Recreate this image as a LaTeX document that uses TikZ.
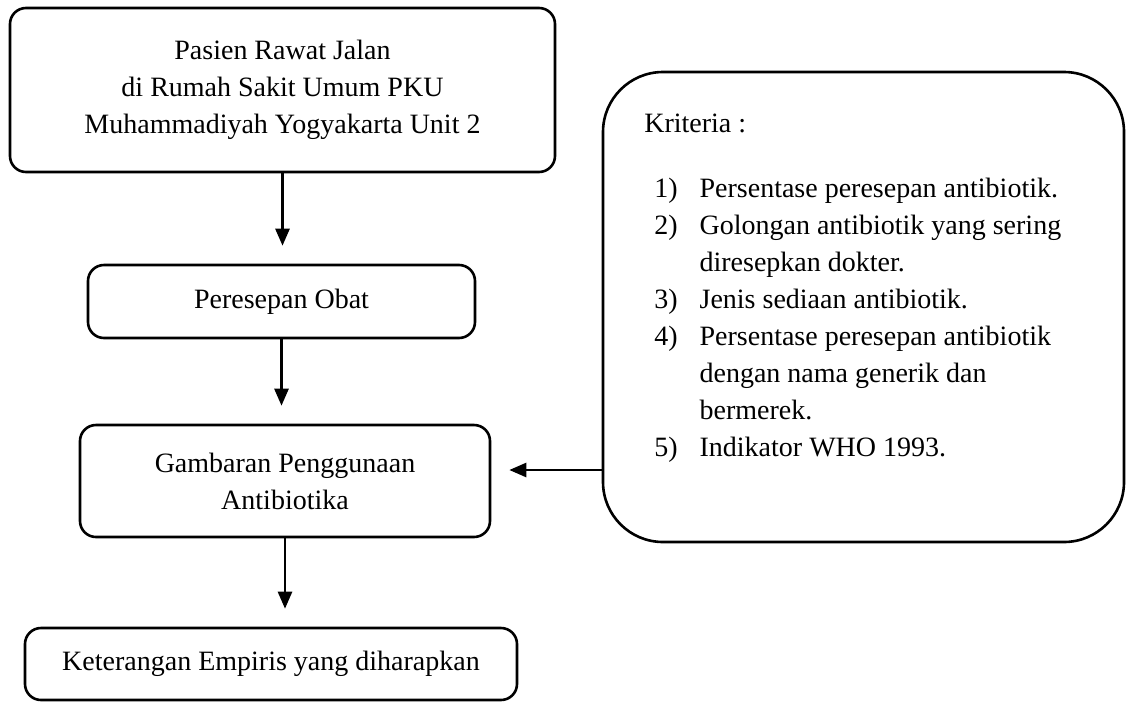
\documentclass[tikz,border=0pt]{standalone}
\usepackage{fontspec}
\setmainfont{Liberation Serif}
\usetikzlibrary{arrows.meta,positioning}

\begin{document}
\begin{tikzpicture}[x=1pt,y=-1pt,-{Triangle[length=17pt,width=14pt]},
                    line width=2.6pt,shorten >=18pt]
  \tikzstyle{box}=[rectangle,draw=black,rounded corners=16pt,align=center,
                   inner sep=0pt,font=\fontsize{28}{37}\selectfont]
  \tikzstyle{txt}=[inner sep=0pt,font=\fontsize{28}{37}\selectfont]

  \useasboundingbox (0,0) rectangle (1127,702);

  \node[box,minimum width=545pt,minimum height=164pt] (pasien) at (282.5,90)
    {Pasien Rawat Jalan\\di Rumah Sakit Umum PKU\\Muhammadiyah Yogyakarta Unit 2};
  \node[box,minimum width=387pt,minimum height=73pt] (obat)   at (281.5,301.5)
    {Peresepan Obat};
  \node[box,minimum width=410pt,minimum height=112pt] (gambaran) at (285,481)
    {Gambaran Penggunaan\\Antibiotika};
  \node[box,minimum width=492pt,minimum height=72pt] (empiris) at (271,664)
    {Keterangan Empiris yang diharapkan};

  % kotak kriteria
  \node[box,rounded corners=60pt,minimum width=521pt,minimum height=470pt] (kriteria) at (863.5,307) {};
  \node[txt,anchor=base west] (judul) at (643,132) {Kriteria :};
  \node[txt,anchor=base west] (daftar) at (653,197)
    {\begin{tabular}[t]{@{}l@{\hspace{22pt}}l@{}}
       1) & Persentase peresepan antibiotik.\\
       2) & Golongan antibiotik yang sering\\
          & diresepkan dokter.\\
       3) & Jenis sediaan antibiotik.\\
       4) & Persentase peresepan antibiotik\\
          & dengan nama generik dan\\
          & bermerek.\\
       5) & Indikator WHO 1993.
     \end{tabular}};

  \coordinate (kaki) at (kriteria.west |- 0,470);

  \path (pasien.south) edge (pasien.south |- obat.north)
        (obat.south)   edge (obat.south |- gambaran.north)
        (gambaran.south) edge (gambaran.south |- empiris.north)
        (kaki) edge (kaki -| gambaran.east);

\end{tikzpicture}
\end{document}
